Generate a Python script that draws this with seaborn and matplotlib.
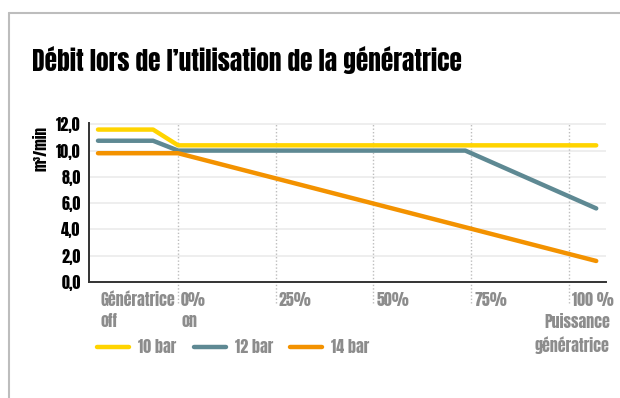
import matplotlib
matplotlib.use("Agg")
import matplotlib.pyplot as plt
import matplotlib.transforms as mtransforms
from matplotlib.lines import Line2D
import seaborn as sns
import pandas as pd

# Load axis positions (% of generator power; negative = generator off)
x_10bar = [-20.5, -6.4, 0, 107]
y_10bar = [11.6, 11.6, 10.4, 10.4]
x_12bar = [-20.5, -6.4, 0, 73.5, 107]
y_12bar = [10.75, 10.75, 10.0, 10.0, 5.6]
x_14bar = [-20.5, 0, 107]
y_14bar = [9.8, 9.8, 1.6]

series_names = ["10 bar", "12 bar", "14 bar"]
series_colors = ["#FFD400", "#5E8993", "#F39200"]

tick_pos = [-20.5, 0, 25, 50, 75, 100]
tick_labels = ["Génératrice\noff", "0%\non", "25%", "50%", "75%", "100 %"]
y_ticks = [0, 2, 4, 6, 8, 10, 12]

frames = []
for name, xs, ys in zip(series_names, [x_10bar, x_12bar, x_14bar],
                        [y_10bar, y_12bar, y_14bar]):
    frames.append(pd.DataFrame({"x": xs, "y": ys, "série": name}))
df = pd.concat(frames, ignore_index=True)

sns.set_theme(style="white")
FONT = ["Anton", "Barlow Condensed", "DejaVu Sans"]
plt.rcParams["font.family"] = FONT

GREY_TXT = "#8C8C8C"
LBL_SIZE = 11.5

W, H = 620, 398
fig = plt.figure(figsize=(W / 100, H / 100), dpi=100)
ax = fig.add_axes([89 / W, 1 - 282 / H, (606 - 89) / W, (282 - 123) / H])

# Frame around the figure (top and left rules)
fig.add_artist(Line2D([9 / W, 1], [1 - 13 / H, 1 - 13 / H], color="#BDBDBD", lw=1.5))
fig.add_artist(Line2D([9 / W, 9 / W], [0, 1 - 13 / H], color="#BDBDBD", lw=1.5))

# Horizontal grid
for v in y_ticks[1:]:
    ax.axhline(v, color="#EBEBEB", lw=1.2, zorder=0)
# Dotted verticals running below the axis
for v in [0, 25, 50, 75, 100]:
    ax.axvline(v, ymin=-0.135, ymax=1, color="#BDBDBD", lw=1, ls=(0, (1, 1.5)),
               clip_on=False, zorder=0)

sns.lineplot(data=df, x="x", y="y", hue="série", palette=series_colors,
             hue_order=series_names, lw=3.2, ax=ax, legend=False, sort=False,
             solid_capstyle="round", solid_joinstyle="round", zorder=3)

ax.set_xlim(-22.8, 109.5)
ax.set_ylim(0, 12.1)
ax.set_xlabel("")
ax.set_ylabel("m³/min", fontsize=11, color="black")
ax.yaxis.set_label_coords(-0.078, 0.84)

for s in ["top", "right"]:
    ax.spines[s].set_visible(False)
for s in ["left", "bottom"]:
    ax.spines[s].set_color("#333333")
    ax.spines[s].set_linewidth(1.4)

ax.set_yticks(y_ticks)
ax.set_yticklabels([f"{v:.1f}".replace(".", ",") for v in y_ticks],
                   fontsize=LBL_SIZE, color="black")
ax.tick_params(axis="y", length=0, pad=6)

ax.set_xticks(tick_pos)
ax.set_xticklabels(tick_labels, fontsize=LBL_SIZE, color=GREY_TXT,
                   ha="left", va="top", linespacing=1.4)
ax.tick_params(axis="x", length=0, pad=7)
offset = mtransforms.ScaledTranslation(3 / 100, 0, fig.dpi_scale_trans)
for lbl in ax.get_xticklabels():
    lbl.set_transform(lbl.get_transform() + offset)

fig.text(610 / W, 1 - 334 / H, "Puissance\ngénératrice", ha="right", va="center",
         multialignment="right", fontsize=LBL_SIZE, color=GREY_TXT, linespacing=1.4)

fig.text(32 / W, 1 - 60 / H, "Débit lors de l’utilisation de la génératrice",
         ha="left", va="center", fontsize=18.3, color="black")

handles = [Line2D([], [], color=c, lw=3.2, solid_capstyle="round") for c in series_colors]
fig.legend(handles, series_names, loc="center left", bbox_to_anchor=(83 / W, 1 - 347 / H),
           ncol=3, frameon=False, handlelength=2.0, handletextpad=0.55,
           columnspacing=1.1, prop={"family": FONT, "size": LBL_SIZE},
           labelcolor=GREY_TXT)

fig.savefig("out.png", dpi=100, facecolor="white")
